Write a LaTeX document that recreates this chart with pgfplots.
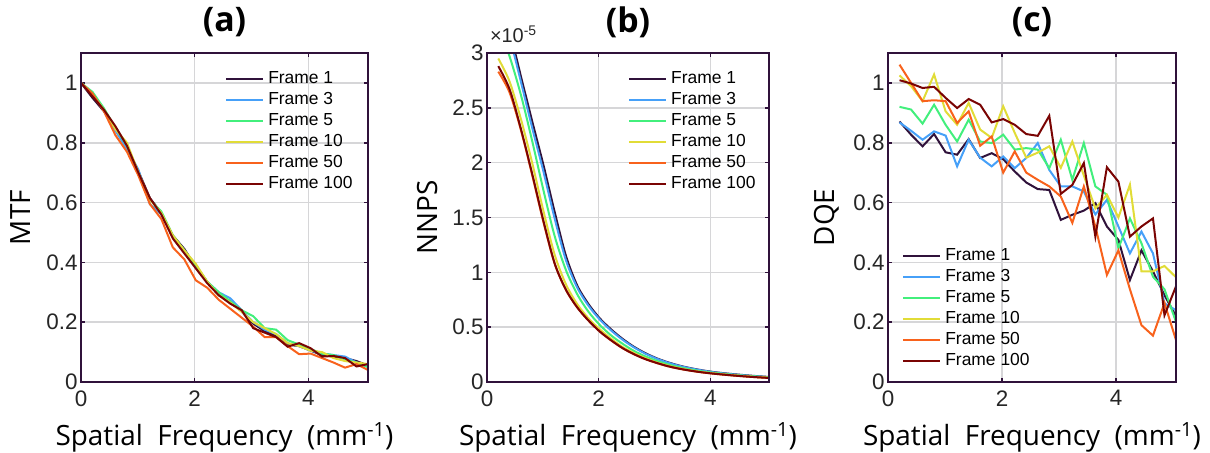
\documentclass[border=0pt]{standalone}
\usepackage{fontspec}
\setmainfont{Liberation Sans}
\newfontfamily\labelfont{Open Sans}
\usepackage{pgfplots}
\usepackage{pgfplotstable}
\pgfplotsset{compat=1.18}

\definecolor{fA}{HTML}{30123B}
\definecolor{fB}{HTML}{46A0F8}
\definecolor{fC}{HTML}{42EF7C}
\definecolor{fD}{HTML}{E1DC37}
\definecolor{fE}{HTML}{F8621C}
\definecolor{fF}{HTML}{7A0403}
\definecolor{axgray}{HTML}{262626}
\definecolor{gridgray}{HTML}{D6D6D8}

% MTF
\pgfplotstableread{
x     f1    f3    f5    f10   f50   f100
0     1.000 1.000 1.000 1.000 1.000 1.000
0.202 0.950 0.960 0.970 0.960 0.965 0.955
0.404 0.905 0.910 0.915 0.910 0.905 0.910
0.606 0.850 0.840 0.850 0.845 0.825 0.855
0.808 0.785 0.780 0.790 0.800 0.770 0.790
1.010 0.705 0.710 0.700 0.700 0.690 0.700
1.212 0.615 0.595 0.610 0.610 0.595 0.615
1.414 0.565 0.560 0.570 0.565 0.545 0.560
1.616 0.490 0.485 0.490 0.490 0.450 0.480
1.818 0.445 0.440 0.440 0.440 0.410 0.430
2.020 0.385 0.390 0.390 0.395 0.340 0.380
2.222 0.335 0.335 0.335 0.335 0.315 0.330
2.424 0.290 0.300 0.300 0.290 0.275 0.290
2.626 0.270 0.280 0.270 0.265 0.245 0.262
2.828 0.235 0.240 0.240 0.235 0.215 0.240
3.030 0.195 0.200 0.220 0.200 0.185 0.180
3.232 0.170 0.175 0.180 0.180 0.150 0.165
3.434 0.155 0.160 0.175 0.160 0.150 0.150
3.636 0.125 0.130 0.140 0.130 0.120 0.118
3.838 0.120 0.120 0.125 0.120 0.093 0.130
4.040 0.105 0.105 0.110 0.105 0.095 0.113
4.242 0.090 0.095 0.095 0.100 0.080 0.085
4.444 0.085 0.090 0.090 0.080 0.065 0.087
4.646 0.080 0.085 0.075 0.070 0.048 0.080
4.848 0.070 0.065 0.065 0.065 0.060 0.052
5.050 0.055 0.050 0.050 0.060 0.040 0.060
}\mtf

% NNPS, in units of 1e-5
\pgfplotstableread{
x     f1    f3    f5    f10   f50   f100
0.202 3.50  3.50  3.25  2.95  2.83  2.88
0.404 3.20  3.15  2.97  2.74  2.64  2.67
0.606 2.79  2.74  2.62  2.40  2.30  2.31
0.808 2.38  2.32  2.20  2.00  1.89  1.90
1.010 1.98  1.92  1.75  1.56  1.46  1.47
1.212 1.55  1.49  1.33  1.16  1.08  1.08
1.414 1.15  1.11  1.02  0.89  0.84  0.84
1.616 0.88  0.86  0.80  0.71  0.68  0.68
1.818 0.71  0.695 0.64  0.58  0.56  0.56
2.020 0.58  0.57  0.52  0.48  0.46  0.46
2.222 0.48  0.47  0.425 0.395 0.38  0.38
2.424 0.395 0.387 0.35  0.32  0.31  0.31
2.626 0.323 0.317 0.285 0.265 0.255 0.255
2.828 0.265 0.26  0.235 0.218 0.21  0.21
3.030 0.218 0.214 0.195 0.18  0.175 0.175
3.232 0.181 0.178 0.162 0.15  0.145 0.145
3.434 0.151 0.148 0.136 0.126 0.122 0.122
3.636 0.127 0.125 0.115 0.107 0.104 0.104
3.838 0.108 0.106 0.098 0.091 0.089 0.089
4.040 0.092 0.09  0.085 0.079 0.077 0.077
4.242 0.08  0.078 0.074 0.069 0.067 0.067
4.444 0.07  0.068 0.064 0.06  0.058 0.058
4.646 0.061 0.059 0.056 0.052 0.050 0.050
4.848 0.053 0.051 0.049 0.045 0.043 0.043
5.050 0.046 0.044 0.043 0.039 0.037 0.037
}\nnps

% DQE
\pgfplotstableread{
x     f1    f3    f5    f10   f50   f100
0.202 0.871 0.868 0.920 1.025 1.061 1.009
0.404 0.827 0.840 0.911 0.989 1.000 0.998
0.606 0.788 0.810 0.864 0.939 0.939 0.983
0.808 0.829 0.838 0.927 1.028 0.942 0.987
1.010 0.768 0.824 0.860 0.905 0.939 0.950
1.212 0.760 0.721 0.804 0.860 0.866 0.916
1.414 0.812 0.810 0.877 0.933 0.905 0.946
1.616 0.749 0.750 0.804 0.844 0.790 0.927
1.818 0.765 0.721 0.799 0.816 0.821 0.868
2.020 0.745 0.754 0.827 0.922 0.700 0.879
2.222 0.704 0.715 0.777 0.833 0.771 0.860
2.424 0.667 0.749 0.782 0.750 0.700 0.829
2.626 0.645 0.799 0.777 0.767 0.676 0.823
2.828 0.642 0.709 0.715 0.788 0.654 0.890
3.030 0.542 0.654 0.810 0.716 0.620 0.629
3.232 0.559 0.654 0.676 0.804 0.532 0.659
3.434 0.573 0.637 0.799 0.690 0.654 0.732
3.636 0.598 0.560 0.654 0.580 0.520 0.486
3.838 0.520 0.609 0.626 0.626 0.358 0.718
4.040 0.475 0.520 0.447 0.550 0.440 0.670
4.242 0.341 0.430 0.547 0.660 0.310 0.486
4.444 0.440 0.503 0.464 0.370 0.190 0.520
4.646 0.370 0.430 0.352 0.370 0.155 0.547
4.848 0.290 0.263 0.310 0.388 0.264 0.223
5.050 0.220 0.240 0.201 0.350 0.140 0.320
}\dqe

\pgfplotsset{
  panel/.style={
    scale only axis, height=329bp, anchor=south west,
    xmin=0, xmax=5.05, xtick={0,2,4},
    grid=major,
    major grid style={line width=1.6bp, draw=gridgray},
    axis line style={line width=2bp, draw=fA},
    tick align=inside, major tick length=4bp,
    tick style={line width=1.6bp, draw=fA},
    ticklabel style={font=\fontsize{22.5}{22.5}\selectfont, text=axgray},
    /pgf/number format/assume math mode=true,
    xticklabel style={yshift=-5bp},
    title style={font=\labelfont\bfseries\fontsize{34}{34}\selectfont,
      at={(axis description cs:0.5,1)}, anchor=center, yshift=25bp},
    xlabel style={font=\labelfont\fontsize{28}{28}\selectfont,
      at={(axis description cs:0.5,0)}, anchor=center, yshift=-55bp},
    ylabel style={font=\labelfont\fontsize{28}{28}\selectfont,
      at={(axis description cs:-0.212,0.5)}, anchor=center},
    xlabel={Spatial\ \ Frequency\ \ (mm\textsuperscript{-1})},
    legend style={draw=none, fill=none, inner sep=0pt,
      font=\fontsize{17.5}{17.5}\selectfont, row sep=4bp, column sep=4bp,
      nodes={inner sep=0pt, text height=12.5bp, text depth=4.5bp}},
    legend cell align=left,
    legend image code/.code={\draw[#1] (0bp,0bp) -- (37bp,0bp);},
    every axis plot/.append style={line width=2bp},
  }
}

\begin{document}
\begin{tikzpicture}
\useasboundingbox (0,0) rectangle (1210bp,453bp);

\begin{axis}[panel, at={(81bp,71bp)}, width=287bp,
  ymin=0, ymax=1.1, ytick={0,0.2,0.4,0.6,0.8,1},
  title={(a)}, ylabel={MTF},
  legend style={at={(axis description cs:0.502,0.9465)}, anchor=north west}]
\addplot[fA] table[x=x,y=f1]{\mtf};
\addplot[fB] table[x=x,y=f3]{\mtf};
\addplot[fC] table[x=x,y=f5]{\mtf};
\addplot[fD] table[x=x,y=f10]{\mtf};
\addplot[fE] table[x=x,y=f50]{\mtf};
\addplot[fF] table[x=x,y=f100]{\mtf};
\legend{Frame 1, Frame 3, Frame 5, Frame 10, Frame 50, Frame 100}
\end{axis}
\draw[fA, line width=2bp] (81bp,71bp) -- (368bp,71bp) -- (368bp,400bp) -- (81bp,400bp) -- cycle;

\begin{axis}[panel, at={(487bp,71bp)}, width=282bp,
  ymin=0, ymax=3, ytick={0,0.5,1,1.5,2,2.5,3},
  title={(b)}, ylabel={NNPS},
  every axis plot/.append style={smooth},
  after end axis/.append code={
    \node[anchor=base west, font=\fontsize{20}{20}\selectfont, text=axgray, inner sep=0pt]
      at (rel axis cs:0.01,1) [yshift=10bp] {×10\textsuperscript{-5}};},
  legend style={at={(axis description cs:0.50,0.9465)}, anchor=north west}]
\addplot[fA] table[x=x,y=f1]{\nnps};
\addplot[fB] table[x=x,y=f3]{\nnps};
\addplot[fC] table[x=x,y=f5]{\nnps};
\addplot[fD] table[x=x,y=f10]{\nnps};
\addplot[fE] table[x=x,y=f50]{\nnps};
\addplot[fF] table[x=x,y=f100]{\nnps};
\legend{Frame 1, Frame 3, Frame 5, Frame 10, Frame 50, Frame 100}
\end{axis}
\draw[fA, line width=2bp] (487bp,71bp) -- (769bp,71bp) -- (769bp,400bp) -- (487bp,400bp) -- cycle;

\begin{axis}[panel, at={(888bp,71bp)}, width=288bp,
  ymin=0, ymax=1.1, ytick={0,0.2,0.4,0.6,0.8,1},
  title={(c)}, ylabel={DQE},
  legend style={at={(axis description cs:0.049,0.4085)}, anchor=north west}]
\addplot[fA] table[x=x,y=f1]{\dqe};
\addplot[fB] table[x=x,y=f3]{\dqe};
\addplot[fC] table[x=x,y=f5]{\dqe};
\addplot[fD] table[x=x,y=f10]{\dqe};
\addplot[fE] table[x=x,y=f50]{\dqe};
\addplot[fF] table[x=x,y=f100]{\dqe};
\legend{Frame 1, Frame 3, Frame 5, Frame 10, Frame 50, Frame 100}
\end{axis}
\draw[fA, line width=2bp] (888bp,71bp) -- (1176bp,71bp) -- (1176bp,400bp) -- (888bp,400bp) -- cycle;

\end{tikzpicture}
\end{document}
